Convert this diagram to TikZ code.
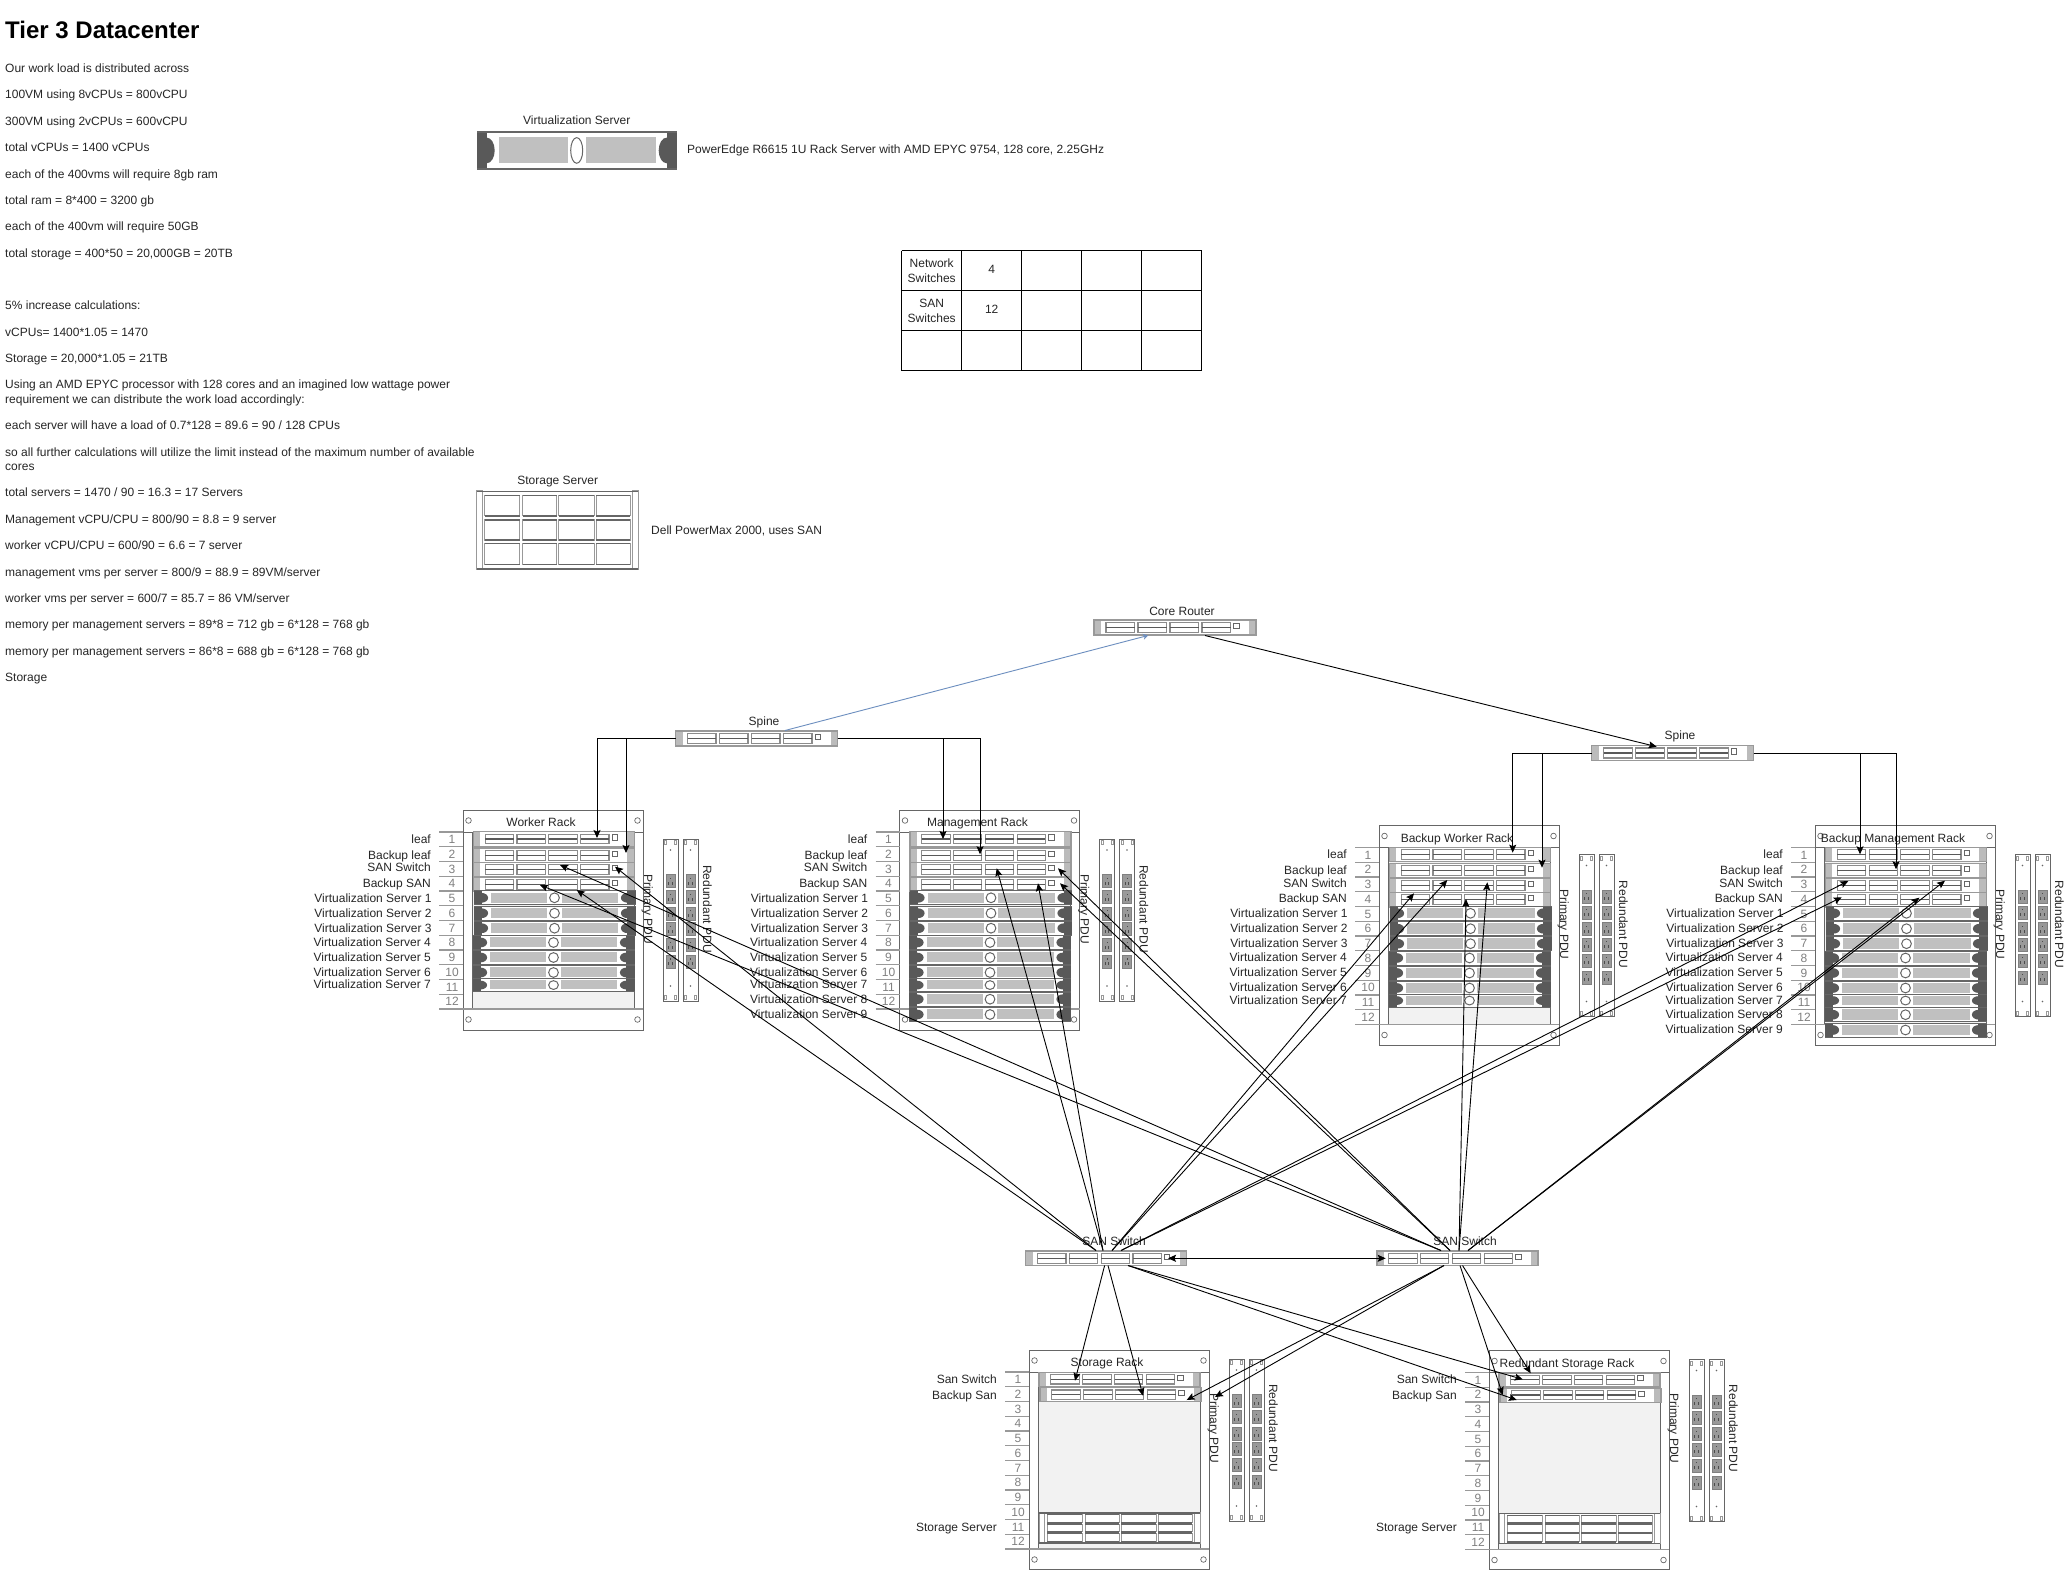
\documentclass[tikz,border=0pt]{standalone}
\usepackage{fontspec}
\setmainfont{Liberation Sans}
\usetikzlibrary{arrows.meta}
\definecolor{dcdark}{HTML}{595959}
\definecolor{dcline}{HTML}{666666}
\definecolor{dcmid}{HTML}{999999}
\definecolor{dclight}{HTML}{BBBBBB}
\definecolor{dcpanel}{HTML}{C0C0C0}
\definecolor{dcbg}{HTML}{F2F2F2}
\definecolor{dcblue}{HTML}{6C8EBF}
\newcounter{dcn}
\tikzset{
  lab/.style={font=\fontsize{12}{14}\selectfont,inner sep=0pt,text height=8.5pt,text depth=0.5pt,text=black!85},
  labl/.style={lab,anchor=west},
  labr/.style={lab,anchor=east},
  numlab/.style={lab,text=black!50},
  conn/.style={draw=black,line width=0.9pt,-{Stealth[length=8pt,width=7pt,inset=1.5pt]}},
  swanchor/.style={inner sep=0pt,outer sep=0pt},
}
% switch: name, x, y, w, h
\newcommand{\dcswitch}[5]{%
  \node[swanchor,minimum width=#4pt,minimum height=#5pt] (#1) at ({#2+#4/2},{#3+#5/2}) {};
  \begin{scope}[shift={(#2,#3)},xscale=#4/162,yscale=#5/15]
    \fill[white] (0,0) rectangle (162,15);
    \fill[dclight] (0,0) rectangle (7,15);
    \fill[dclight] (155,0) rectangle (162,15);
    \foreach \cx in {12,44,76,108}{
      \fill[white,draw=black!45,line width=1.1pt] (\cx,2.5) rectangle (\cx+28.5,12.5);
      \draw[dcdark,line width=1.3pt] (\cx,7.4) -- (\cx+28.5,7.4);
    }
    \draw[dcline,fill=white,line width=0.8pt] (139.5,3) rectangle (145,8.5);
    \draw[dcmid,line width=1.4pt] (0,0) rectangle (162,15);
  \end{scope}}
% virtualization server: x, y, w, h
\newcommand{\dcvsrv}[4]{%
  \begin{scope}[shift={(#1,#2)},xscale=#3/200,yscale=#4/40]
    \fill[white] (0,0) rectangle (200,40);
    \fill[dcdark] (0,0) rectangle (10,40);
    \fill[dcdark] (190,0) rectangle (200,40);
    \fill[dcdark] (10,20) ellipse [x radius=8,y radius=13];
    \fill[dcdark] (190,20) ellipse [x radius=8,y radius=13];
    \fill[dcline] (0,0) rectangle (200,2.2);
    \fill[dcline] (0,37.8) rectangle (200,40);
    \fill[dcpanel] (22,6) rectangle (91,33);
    \fill[dcpanel] (109,6) rectangle (179,33);
    \draw[dcline,fill=white,line width=1pt] (100,20) ellipse [x radius=6,y radius=13];
  \end{scope}}
% storage server: x, y, w, h
\newcommand{\dcssrv}[4]{%
  \begin{scope}[shift={(#1,#2)},xscale=#3/161,yscale=#4/78]
    \fill[white] (0,0) rectangle (161,78);
    \draw[dcmid,line width=0.9pt] (0,0) rectangle (5.7,78);
    \draw[dcmid,line width=0.9pt] (155.3,0) rectangle (161,78);
    \foreach \ry/\rh in {5/20,29/20,52/21}{
      \foreach \cx/\cw in {8/35,46/34,82/35,119/34}{
        \draw[dcmid,line width=1pt] (\cx,\ry) rectangle (\cx+\cw,\ry+\rh);
        \draw[dcline,line width=1.3pt] (\cx,\ry) -- (\cx+\cw,\ry);
        \draw[dcline,line width=1.3pt] (\cx,\ry+\rh) -- (\cx+\cw,\ry+\rh);
      }
    }
    \draw[dcline,line width=1.4pt] (0,0.5) -- (161,0.5);
    \draw[dcline,line width=1.4pt] (0,77.5) -- (161,77.5);
  \end{scope}}
% PDU: x, y
\newcommand{\dcpdu}[2]{%
  \begin{scope}[shift={(#1,#2)}]
    \fill[white,draw=dcline,line width=0.9pt] (0,0) rectangle (15,162);
    \foreach \sx in {1.5,11.5}{
      \draw[dcmid,line width=0.6pt] (\sx,1.5) rectangle (\sx+2,5.5);
      \draw[dcmid,line width=0.6pt] (\sx,156.5) rectangle (\sx+2,160.5);
    }
    \fill[dcline] (7.5,11) circle (0.9);
    \fill[dcline] (7.5,147) circle (0.9);
    \foreach \oy in {35.7,51.7,68,83.7,99.7,116.3}{
      \fill[dcmid,draw=black!50,line width=0.5pt] (3,\oy) rectangle (12,\oy+13);
      \fill[black!70] (7,\oy+3) rectangle (8,\oy+4.2);
      \fill[black!70] (5.3,\oy+7) rectangle (6.3,\oy+10);
      \fill[black!70] (8.7,\oy+7) rectangle (9.7,\oy+10);
    }
  \end{scope}}
% rack frame: x, y, title, height
\newcommand{\dcrack}[4]{%
  \begin{scope}[shift={(#1,#2)}]
    \fill[white,draw=dcline,line width=0.9pt] (0,0) rectangle (180,#4);
    \fill[dcbg] (9.5,22) rectangle (171,199);
    \draw[dcline,line width=0.9pt] (9.5,22) -- (9.5,199);
    \draw[dcline,line width=0.9pt] (171,22) -- (171,199);
    \draw[dcline,line width=0.9pt] (0,22) -- (180,22);
    \draw[dcmid,line width=1.1pt] (0,199) -- (180,199);
    \foreach \k in {0,...,12}{
      \draw[dcmid,line width=1.1pt] (-24,22+14.75*\k) -- (0,22+14.75*\k);
    }
    \foreach \k in {1,...,12}{
      \stepcounter{dcn}
      \node[numlab,name=n\arabic{dcn}] at (-11,22+14.75*\k-7.2) {\k};
    }
    \foreach \cx/\cy in {5.5/10.5,174.5/10.5,5.5/209.5,174.5/209.5}{
      \draw[dcline,line width=0.7pt,fill=white] (\cx,\cy) circle (2.8);
    }
    \stepcounter{dcn}
    \node[lab,name=n\arabic{dcn}] at (78,12.5) {#3};
  \end{scope}}
% two PDUs and their labels: x0, y0, pdu offset, label offset
\newcommand{\dcpdus}[4]{%
  \dcpdu{#1+200}{#2+#3}
  \dcpdu{#1+220}{#2+#3}
  \stepcounter{dcn}
  \node[lab,rotate=-90,name=n\arabic{dcn}] at (#1+185,#2+#4) {Primary PDU};
  \stepcounter{dcn}
  \node[lab,rotate=-90,name=n\arabic{dcn}] at (#1+244,#2+#4) {Redundant PDU};}
% compute rack content: prefix, x0, y0
\newcommand{\dcswitches}[3]{%
  \dcswitch{#1a}{#2+10.3}{#3+21.7}{161}{14.5}
  \dcswitch{#1b}{#2+10.3}{#3+38}{161}{14.5}
  \dcswitch{#1c}{#2+10.3}{#3+52.5}{161}{14.5}
  \dcswitch{#1d}{#2+10.3}{#3+67}{161}{14.5}
  \foreach \tx/\ty in {leaf/29,Backup leaf/45,SAN Switch/57.5,Backup SAN/73}{
    \stepcounter{dcn}
    \node[labr,name=n\arabic{dcn}] at (#2-32,#3+\ty) {\tx};
  }
  \foreach \tx/\sy/\ty in {1/80.3/88,2/95.7/103,3/110.7/118}{
    \dcvsrv{#2+10.5}{#3+\sy}{162}{15}
    \stepcounter{dcn}
    \node[labr,name=n\arabic{dcn}] at (#2-31.2,#3+\ty) {Virtualization Server \tx};
  }
  \foreach \tx/\sy/\ty/\sh in {4/125/132/15,5/140/147/15,6/155/162/15,7/168.3/174.5/13.5}{
    \dcvsrv{#2+9.5}{#3+\sy}{162}{\sh}
    \stepcounter{dcn}
    \node[labr,name=n\arabic{dcn}] at (#2-32,#3+\ty) {Virtualization Server \tx};
  }}
\newcommand{\dcextra}[2]{%
  \dcvsrv{#1+9.5}{#2+181.7}{162}{15}
  \dcvsrv{#1+9.5}{#2+197}{162}{15}
  \stepcounter{dcn}
  \node[labr,name=n\arabic{dcn}] at (#1-32,#2+189.3) {Virtualization Server 8};
  \stepcounter{dcn}
  \node[labr,name=n\arabic{dcn}] at (#1-32,#2+204.3) {Virtualization Server 9};}
\newcommand{\dcstore}[3]{%
  \dcswitch{#1a}{#2+10}{#3+22.3}{161}{14}
  \dcswitch{#1b}{#2+11}{#3+37.7}{161}{14}
  \dcssrv{#2+10}{#3+162.7}{161}{30.6}
  \stepcounter{dcn}
  \node[labr,name=n\arabic{dcn}] at (#2-32,#3+29) {San Switch};
  \stepcounter{dcn}
  \node[labr,name=n\arabic{dcn}] at (#2-32,#3+45) {Backup San};
  \stepcounter{dcn}
  \node[labr,name=n\arabic{dcn}] at (#2-32,#3+177) {Storage Server};}
\newcommand{\dctxt}[2]{%
  \stepcounter{dcn}
  \node[labl,name=n\arabic{dcn}] at (5,#1+0.9) {#2};}
\begin{document}
\begin{tikzpicture}[x=1pt,y=-1pt]
\useasboundingbox (0,0) rectangle (2067,1570);
\fill[white] (0,0) rectangle (2067,1570);

% left text column
\node[labl,font=\fontsize{24}{28}\selectfont\bfseries,text=black,text height=17pt,text depth=0pt] (title) at (5,30) {Tier 3 Datacenter};
\dctxt{67.5}{Our work load is distributed across}
\dctxt{94}{100VM using 8vCPUs = 800vCPU}
\dctxt{120.3}{300VM using 2vCPUs = 600vCPU}
\dctxt{146.8}{total vCPUs = 1400 vCPUs}
\dctxt{173.2}{each of the 400vms will require 8gb ram}
\dctxt{199.5}{total ram = 8*400 = 3200 gb}
\dctxt{226}{each of the 400vm will require 50GB}
\dctxt{252.3}{total storage = 400*50 = 20,000GB = 20TB}
\dctxt{305}{5\% increase calculations:}
\dctxt{331.3}{vCPUs= 1400*1.05 = 1470}
\dctxt{357.7}{Storage = 20,000*1.05 = 21TB}
\dctxt{384}{Using an AMD EPYC processor with 128 cores and an imagined low wattage power}
\dctxt{398.5}{requirement we can distribute the work load accordingly:}
\dctxt{424.9}{each server will have a load of 0.7*128 = 89.6 = 90 / 128 CPUs}
\dctxt{451.3}{so all further calculations will utilize the limit instead of the maximum number of available}
\dctxt{465.5}{cores}
\dctxt{492}{total servers = 1470 / 90 = 16.3 = 17 Servers}
\dctxt{518.5}{Management vCPU/CPU = 800/90 = 8.8 = 9 server}
\dctxt{544.8}{worker vCPU/CPU = 600/90 = 6.6 = 7 server}
\dctxt{571.2}{management vms per server = 800/9 = 88.9 = 89VM/server}
\dctxt{597.5}{worker vms per server = 600/7 = 85.7 = 86 VM/server}
\dctxt{623.9}{memory per management servers = 89*8 = 712 gb = 6*128 = 768 gb}
\dctxt{650.3}{memory per management servers = 86*8 = 688 gb = 6*128 = 768 gb}
\dctxt{676.6}{Storage}

% legend shapes
\node[lab] (vlabel) at (576.7,120.2) {Virtualization Server};
\dcvsrv{476.7}{130.7}{200}{39.5}
\node[labl] (vdesc) at (687,150) {PowerEdge R6615 1U Rack Server with AMD EPYC 9754, 128 core, 2.25GHz};
\node[lab] (slabel) at (557.7,480.7) {Storage Server};
\dcssrv{476.7}{490.7}{161.5}{78.7}
\node[labl] (sdesc) at (651,530) {Dell PowerMax 2000, uses SAN};

% table
\foreach \cx in {0,...,5}{\draw[black,line width=0.9pt] (901.7+60*\cx,250.7) -- (901.7+60*\cx,370.7);}
\foreach \ry in {0,...,3}{\draw[black,line width=0.9pt] (901.7,250.7+40*\ry) -- (1201.7,250.7+40*\ry);}
\node[font=\fontsize{12}{15}\selectfont,align=center,inner sep=0pt,text=black!85] (t11) at (931.7,270.5) {Network\\Switches};
\node[lab] (t12) at (991.7,270) {4};
\node[font=\fontsize{12}{15}\selectfont,align=center,inner sep=0pt,text=black!85] (t21) at (931.7,310.5) {SAN\\Switches};
\node[lab] (t22) at (991.7,310) {12};

% network switches
\node[lab] (corelabel) at (1182,611) {Core Router};
\dcswitch{core}{1094}{620}{162}{15}
\node[lab] (sp1label) at (764,721) {Spine};
\dcswitch{spa}{675.5}{731}{162}{15}
\node[lab] (sp2label) at (1680,735.7) {Spine};
\dcswitch{spb}{1591.7}{745.5}{162}{15}
\dcswitch{sana}{1025.7}{1251}{161}{14.5}
\dcswitch{sanb}{1376.8}{1251}{161}{14.5}
\node[lab] (sanalabel) at (1114,1241) {SAN Switch};
\node[lab] (sanblabel) at (1465,1241) {SAN Switch};

% racks
\dcrack{463}{810}{Worker Rack}{220}
\dcswitches{wk}{463}{810}
\dcpdus{463}{810}{29}{99}
\dcrack{899.5}{810}{Management Rack}{220}
\dcswitches{mg}{899.5}{810}
\dcextra{899.5}{810}
\dcpdus{899.5}{810}{29}{99}
\dcrack{1379}{825.5}{Backup Worker Rack}{220}
\dcswitches{bw}{1379}{825.5}
\dcpdus{1379}{825.5}{29}{99}
\dcrack{1815}{825.5}{Backup Management Rack}{220}
\dcswitches{bm}{1815}{825.5}
\dcextra{1815}{825.5}
\dcpdus{1815}{825.5}{29}{99}
\dcrack{1029}{1350}{Storage Rack}{219.5}
\dcstore{st}{1029}{1350}
\dcpdus{1029}{1350}{9}{78}
\dcrack{1489}{1350.5}{Redundant Storage Rack}{219}
\dcstore{rs}{1489}{1350.5}
\dcpdus{1489}{1350.5}{9}{78}

% connector end points
\coordinate (ta1) at (597,838);   \coordinate (ta2) at (626,853);
\coordinate (tb1) at (943,839);   \coordinate (tb2) at (980,854.3);
\coordinate (tc1) at (1512.7,852.7); \coordinate (tc2) at (1542,867.7);
\coordinate (td1) at (1860,854.3); \coordinate (td2) at (1896,869.3);
\coordinate (sp1up) at (785,730.5);
\coordinate (coredn) at (1148,635.5);
\coordinate (coreout) at (1205,635.5);
\coordinate (sp2in) at (1656.7,746.7);
% SAN ports
\coordinate (sa1) at (1096,1250.5); \coordinate (sa2) at (1103,1250.5);
\coordinate (sa3) at (1112,1250.5); \coordinate (sa4) at (1121,1250.5);
\coordinate (sb1) at (1441,1250.5); \coordinate (sb2) at (1450,1250.5);
\coordinate (sb3) at (1459,1250.5); \coordinate (sb4) at (1468,1250.5);
\coordinate (sa5) at (1104.6,1265.5); \coordinate (sa6) at (1108,1265.5);
\coordinate (sa7) at (1128,1265.5);
\coordinate (sb5) at (1444,1265.5); \coordinate (sb6) at (1460,1265.5);
\coordinate (sb7) at (1462.5,1265.5);
\coordinate (sal) at (1168,1258.3); \coordinate (sbr) at (1385.7,1258.3);
% rack targets
\coordinate (w1) at (560,865);   \coordinate (w2) at (540,885);
\coordinate (w3) at (615,866.7); \coordinate (w4) at (576.7,890);
\coordinate (m1) at (1058,868.3); \coordinate (m2) at (1060,883.3);
\coordinate (m3) at (996.7,868.3); \coordinate (m4) at (1038,883.3);
\coordinate (bw1) at (1414,893.3); \coordinate (bw2) at (1447.3,880);
\coordinate (bw3) at (1466,899); \coordinate (bw4) at (1487.3,882.3);
\coordinate (bm1) at (1848.3,881); \coordinate (bm2) at (1841.7,897.3);
\coordinate (bm3) at (1919.3,897.7); \coordinate (bm4) at (1945,880.7);
\coordinate (st1) at (1075,1380.7); \coordinate (st2) at (1143,1395.7);
\coordinate (st3) at (1186.7,1400); \coordinate (st4) at (1215,1397);
\coordinate (rs1) at (1522.7,1379.3); \coordinate (rs2) at (1516.7,1400);
\coordinate (rs3) at (1502.7,1395); \coordinate (rs4) at (1530.7,1373.3);

% connectors
\draw[conn] (spa.west) -| (ta1);
\draw[conn] (spa.west) -| (ta2);
\draw[conn] (spa.east) -| (tb1);
\draw[conn] (spa.east) -| (tb2);
\draw[conn] (spb.west) -| (tc1);
\draw[conn] (spb.west) -| (tc2);
\draw[conn] (spb.east) -| (td1);
\draw[conn] (spb.east) -| (td2);
\draw[draw=dcblue,line width=0.9pt,-{Stealth[length=5pt,width=6pt]}] (sp1up) -- (coredn);
\draw[conn] (coreout) -- (sp2in);
\draw[conn] (sb1) -- (w1);
\draw[conn] (sb1) -- (w2);
\draw[conn] (sa1) -- (w3);
\draw[conn] (sa1) -- (w4);
\draw[conn] (sb2) -- (m1);
\draw[conn] (sb2) -- (m2);
\draw[conn] (sa2) -- (m3);
\draw[conn] (sa2) -- (m4);
\draw[conn] (sa3) -- (bw1);
\draw[conn] (sa3) -- (bw2);
\draw[conn] (sb3) -- (bw3);
\draw[conn] (sb3) -- (bw4);
\draw[conn] (sa4) -- (bm1);
\draw[conn] (sa4) -- (bm2);
\draw[conn] (sb4) -- (bm3);
\draw[conn] (sb4) -- (bm4);
\draw[conn] (sa5) -- (st1);
\draw[conn] (sa6) -- (st2);
\draw[conn] (sb5) -- (st3);
\draw[conn] (sb5) -- (st4);
\draw[conn] (sa7) -- (rs1);
\draw[conn] (sa7) -- (rs2);
\draw[conn] (sb6) -- (rs3);
\draw[conn] (sb7) -- (rs4);
\draw[draw=black,line width=0.9pt,{Stealth[length=8pt,width=7pt,inset=1.5pt]}-{Stealth[length=8pt,width=7pt,inset=1.5pt]}] (sal) -- (sbr);
\end{tikzpicture}
\end{document}
